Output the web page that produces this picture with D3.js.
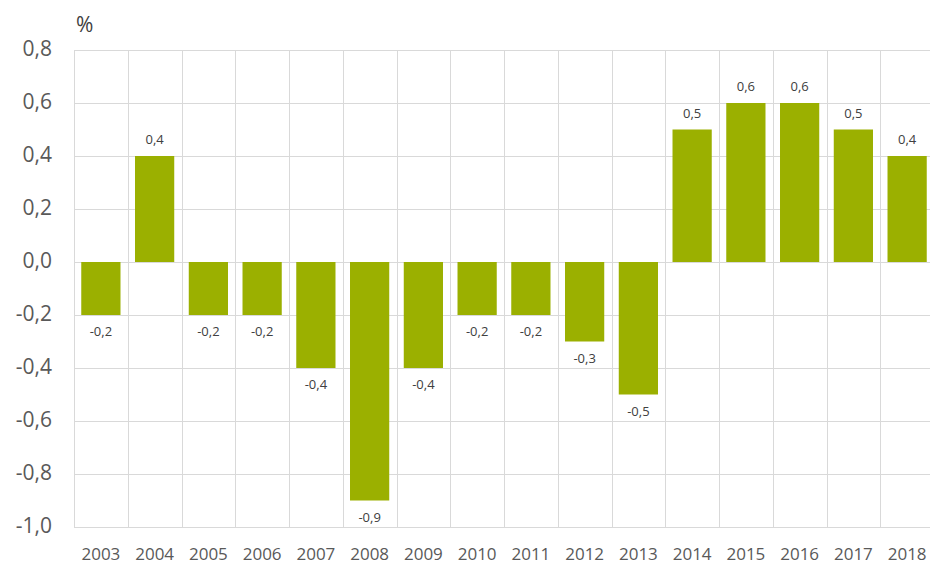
<!DOCTYPE html>
<html>
<head>
<meta charset="utf-8">
<script src="https://cdn.jsdelivr.net/npm/d3@7"></script>
<style>
  body { margin: 0; background: #fff; }
  text { font-family: "Open Sans", sans-serif; }
</style>
</head>
<body>
<div id="wrapper"></div>
<script>
const years = ["2003","2004","2005","2006","2007","2008","2009","2010","2011","2012","2013","2014","2015","2016","2017","2018"];
const values = [-0.2, 0.4, -0.2, -0.2, -0.4, -0.9, -0.4, -0.2, -0.2, -0.3, -0.5, 0.5, 0.6, 0.6, 0.5, 0.4];
const yTicks = [0.8, 0.6, 0.4, 0.2, 0.0, -0.2, -0.4, -0.6, -0.8, -1.0];

const data = years.map((y, i) => ({ year: y, value: values[i] }));

const dimension = {
  width: 930,
  height: 564,
  margin: { top: 50, right: -4, bottom: 37, left: 74 }
};

const fmt = v => d3.format(".1f")(v).replace(".", ",").replace("−", "-");

const svg = d3.select("#wrapper")
  .append("svg")
  .attr("width", dimension.width)
  .attr("height", dimension.height);

const x = d3.scaleBand()
  .domain(years)
  .range([dimension.margin.left, dimension.width - dimension.margin.right])
  .paddingInner(0.27)
  .paddingOuter(0.135);

const y = d3.scaleLinear()
  .domain([-1.0, 0.8])
  .range([dimension.height - dimension.margin.bottom, dimension.margin.top]);

// horizontal grid
svg.append("g")
  .selectAll("line")
  .data(yTicks)
  .join("line")
  .attr("x1", dimension.margin.left)
  .attr("x2", dimension.width - dimension.margin.right)
  .attr("y1", d => Math.round(y(d)) + 0.5)
  .attr("y2", d => Math.round(y(d)) + 0.5)
  .attr("stroke", "#d9d9d9")
  .attr("stroke-width", 1);

// vertical grid between categories
const step = x.step();
const edges = d3.range(years.length + 1).map(i => dimension.margin.left + i * step);
svg.append("g")
  .selectAll("line")
  .data(edges)
  .join("line")
  .attr("x1", d => Math.round(d) + 0.5)
  .attr("x2", d => Math.round(d) + 0.5)
  .attr("y1", y(0.8))
  .attr("y2", y(-1.0))
  .attr("stroke", "#d9d9d9")
  .attr("stroke-width", 1);

// bars
svg.append("g")
  .selectAll("rect")
  .data(data)
  .join("rect")
  .attr("x", d => x(d.year))
  .attr("width", x.bandwidth())
  .attr("y", d => y(Math.max(0, d.value)))
  .attr("height", d => Math.abs(y(d.value) - y(0)))
  .attr("fill", "#9bb000");

// value labels
svg.append("g")
  .selectAll("text")
  .data(data)
  .join("text")
  .attr("x", d => x(d.year) + x.bandwidth() / 2)
  .attr("y", d => d.value >= 0 ? y(d.value) - 12 : y(d.value) + 21)
  .attr("text-anchor", "middle")
  .attr("font-size", 13)
  .attr("fill", "#404040")
  .text(d => fmt(d.value));

// y axis labels
const yAxis = d3.axisLeft(y)
  .tickValues(yTicks)
  .tickSize(0)
  .tickPadding(22)
  .tickFormat(fmt);
svg.append("g")
  .attr("transform", `translate(${dimension.margin.left},0)`)
  .call(yAxis)
  .call(g => g.select(".domain").remove())
  .call(g => g.selectAll("text")
    .attr("dy", "0.25em")
    .attr("font-family", "Open Sans, sans-serif")
    .attr("font-size", 21)
    .attr("fill", "#595959"));

// x axis labels
const xAxis = d3.axisBottom(x).tickSize(0).tickPadding(21);
svg.append("g")
  .attr("transform", `translate(0,${y(-1.0)})`)
  .call(xAxis)
  .call(g => g.select(".domain").remove())
  .call(g => g.selectAll("text")
    .attr("font-family", "Open Sans, sans-serif")
    .attr("font-size", 17)
    .attr("fill", "#595959"));

// unit label
svg.append("text")
  .attr("x", 76)
  .attr("y", 32)
  .attr("font-size", 21)
  .attr("fill", "#404040")
  .text("%");
</script>
</body>
</html>
